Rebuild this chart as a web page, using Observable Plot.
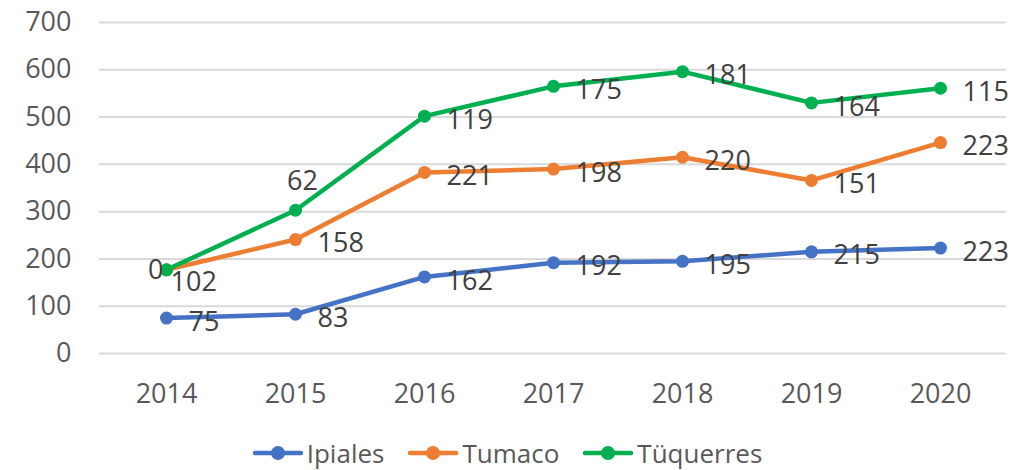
<!DOCTYPE html>
<html>
<head>
<meta charset="utf-8">
<script src="https://cdn.jsdelivr.net/npm/d3@7"></script>
<script src="https://cdn.jsdelivr.net/npm/@observablehq/plot@0.6"></script>
<style>
  html, body { margin: 0; padding: 0; background: #fff; }
  body { width: 1015px; height: 470px; overflow: hidden; font-family: "Open Sans", sans-serif; }
  #legend { display: flex; justify-content: center; gap: 24px; margin-top: 8px; font-size: 26px; color: #595959; line-height: 30px; padding-left: 0px; }
  .item { display: flex; align-items: center; gap: 4px; }
</style>
</head>
<body>
<div id="chart"></div>
<div id="legend"></div>
<script>
const years = ["2014", "2015", "2016", "2017", "2018", "2019", "2020"];
const seriesNames = ["Ipiales", "Tumaco", "Tüquerres"];
const ipiales = [75, 83, 162, 192, 195, 215, 223];
const tumaco = [102, 158, 221, 198, 220, 151, 223];
const tuquerres = [0, 62, 119, 175, 181, 164, 115];
const yTicks = [0, 100, 200, 300, 400, 500, 600, 700];
const colors = ["#4472C4", "#ED7D31", "#00B050"];

const raw = [ipiales, tumaco, tuquerres];
const rows = [];
const cum = years.map(() => 0);
raw.forEach((vals, si) => {
  vals.forEach((v, i) => {
    cum[i] += v;
    rows.push({ series: seriesNames[si], year: years[i], value: v, total: cum[i], si, i });
  });
});

const isLeft = d => d.si === 2 && d.i === 0;
const isAbove = d => d.si === 2 && d.i === 1;
const isBelow = d => d.si === 1 && d.i === 0;
const isNormal = d => !isLeft(d) && !isAbove(d) && !isBelow(d);

const labelStyle = { fill: "#404040", fontSize: 27, fontFamily: "Open Sans, sans-serif" };

const chart = Plot.plot({
  width: 1015,
  height: 430,
  marginLeft: 99,
  marginRight: 9,
  marginTop: 22,
  marginBottom: 77,
  x: { type: "point", domain: years, padding: 0.5 },
  y: { domain: [0, 700] },
  color: { domain: seriesNames, range: colors },
  style: { fontFamily: "Open Sans, sans-serif", background: "#fff" },
  marks: [
    Plot.gridY(yTicks, { stroke: "#d9d9d9", strokeOpacity: 1, strokeWidth: 2 }),
    Plot.axisY({ ticks: yTicks, tickSize: 0, tickPadding: 28, fontSize: 27, color: "#595959", label: null }),
    Plot.axisX({ tickSize: 0, tickPadding: 30, fontSize: 27, color: "#595959", label: null }),
    Plot.line(rows, { x: "year", y: "total", z: "series", stroke: "series", strokeWidth: 4.5, strokeLinejoin: "round", strokeLinecap: "round" }),
    Plot.dot(rows, { x: "year", y: "total", fill: "series", r: 6.5, stroke: null }),
    Plot.text(rows.filter(isNormal), { x: "year", y: "total", text: d => String(d.value), textAnchor: "start", dx: 22, dy: 4, ...labelStyle }),
    Plot.text(rows.filter(isLeft), { x: "year", y: "total", text: d => String(d.value), textAnchor: "end", dx: -3, dy: 1, ...labelStyle }),
    Plot.text(rows.filter(isAbove), { x: "year", y: "total", text: d => String(d.value), textAnchor: "middle", dx: 7, dy: -29, ...labelStyle }),
    Plot.text(rows.filter(isBelow), { x: "year", y: "total", text: d => String(d.value), textAnchor: "start", dx: 4, dy: 13, ...labelStyle })
  ]
});
document.getElementById("chart").appendChild(chart);

const legend = document.getElementById("legend");
seriesNames.forEach((name, k) => {
  const item = document.createElement("div");
  item.className = "item";
  item.innerHTML = `<svg width="50" height="16"><line x1="2" y1="8" x2="48" y2="8" stroke="${colors[k]}" stroke-width="4.5" stroke-linecap="round"/><circle cx="25" cy="8" r="7" fill="${colors[k]}"/></svg><span>${name}</span>`;
  legend.appendChild(item);
});
</script>
</body>
</html>
